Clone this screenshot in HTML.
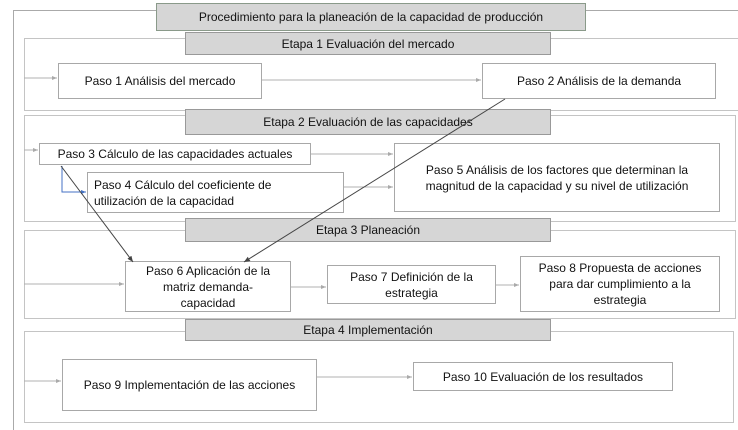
<!DOCTYPE html>
<html><head><meta charset="utf-8"><style>
html,body{margin:0;width:738px;height:430px;overflow:hidden}
body{background:#fff;position:relative;font-family:"Liberation Sans",sans-serif;color:#111}
.b{position:absolute;box-sizing:border-box;border:1px solid #a8a8a8;background:#fff;display:flex;align-items:center;justify-content:center;text-align:center;font-size:12px;line-height:16px}
.h{background:#d6d6d6;border:1px solid #999}
.f{position:absolute;box-sizing:border-box;border:1px solid #c4c4c4}
svg{position:absolute;left:0;top:0}
</style></head><body>
<div class="f" style="left:13px;top:10px;width:725px;height:420px;border-color:#aaa;border-right:none;border-bottom:none"></div>
<div class="f" style="left:24px;top:38px;width:714px;height:73px;border-right:none"></div>
<div class="f" style="left:24px;top:115px;width:712px;height:107px"></div>
<div class="f" style="left:24px;top:230px;width:712px;height:89px"></div>
<div class="f" style="left:24px;top:331px;width:710px;height:92px"></div>
<div class="b h" style="left:156px;top:3px;width:430px;height:28px;border-color:#8a9a8a">Procedimiento para la planeación de la capacidad de producción</div>
<div class="b h" style="left:185px;top:32px;width:366px;height:23px">Etapa 1 Evaluación del mercado</div>
<div class="b h" style="left:185px;top:109px;width:366px;height:26px">Etapa 2 Evaluación de las capacidades</div>
<div class="b h" style="left:185px;top:218px;width:366px;height:24px">Etapa 3 Planeación</div>
<div class="b h" style="left:185px;top:319px;width:366px;height:22px">Etapa 4 Implementación</div>
<div class="b" style="left:58px;top:63px;width:204px;height:36px">Paso 1 Análisis del mercado</div>
<div class="b" style="left:482px;top:63px;width:234px;height:36px">Paso 2 Análisis de la demanda</div>
<div class="b" style="left:39px;top:143px;width:272px;height:22px">Paso 3 Cálculo de las capacidades actuales</div>
<div class="b" style="left:87px;top:172px;width:257px;height:41px;justify-content:flex-start;text-align:left;padding-left:6px">Paso 4 Cálculo del coeficiente de<br>utilización de la capacidad</div>
<div class="b" style="left:394px;top:143px;width:326px;height:69px">Paso 5 Análisis de los factores que determinan la<br>magnitud de la capacidad y su nivel de utilización</div>
<div class="b" style="left:125px;top:261px;width:166px;height:51px">Paso 6 Aplicación de la<br>matriz demanda-<br>capacidad</div>
<div class="b" style="left:327px;top:265px;width:169px;height:39px">Paso 7 Definición de la<br>estrategia</div>
<div class="b" style="left:520px;top:256px;width:200px;height:56px">Paso 8 Propuesta de acciones<br>para dar cumplimiento a la<br>estrategia</div>
<div class="b" style="left:62px;top:359px;width:255px;height:52px">Paso 9 Implementación de las acciones</div>
<div class="b" style="left:413px;top:362px;width:260px;height:29px">Paso 10 Evaluación de los resultados</div>
<svg width="738" height="430">
<defs>
<marker id="g" markerWidth="6" markerHeight="6" refX="5" refY="3" orient="auto"><path d="M0,1 L5,3 L0,5z" fill="#aaa"/></marker>
<marker id="d" markerWidth="7" markerHeight="7" refX="6" refY="3.5" orient="auto"><path d="M0,1 L6,3.5 L0,6z" fill="#444"/></marker>
<marker id="bl" markerWidth="6" markerHeight="6" refX="5" refY="3" orient="auto"><path d="M0,1 L5,3 L0,5z" fill="#4472c4"/></marker>
</defs>
<g stroke="#b0b0b0" stroke-width="1" fill="none" marker-end="url(#g)">
<line x1="24" y1="78" x2="57" y2="78"/>
<line x1="262" y1="80" x2="481" y2="80"/>
<line x1="24" y1="150" x2="38" y2="150"/>
<line x1="311" y1="154" x2="393" y2="154"/>
<line x1="344" y1="187" x2="393" y2="187"/>
<line x1="24" y1="284" x2="124" y2="284"/>
<line x1="291" y1="287" x2="326" y2="287"/>
<line x1="496" y1="285" x2="519" y2="285"/>
<line x1="24" y1="381" x2="61" y2="381"/>
<line x1="317" y1="377" x2="412" y2="377"/>
</g>
<polyline points="62,166 62,192 86,192" stroke="#4472c4" fill="none" marker-end="url(#bl)"/>
<line x1="61" y1="166" x2="133" y2="262" stroke="#444" marker-end="url(#d)"/>
<line x1="505" y1="99" x2="244" y2="262" stroke="#444" marker-end="url(#d)"/>
</svg>
</body></html>
